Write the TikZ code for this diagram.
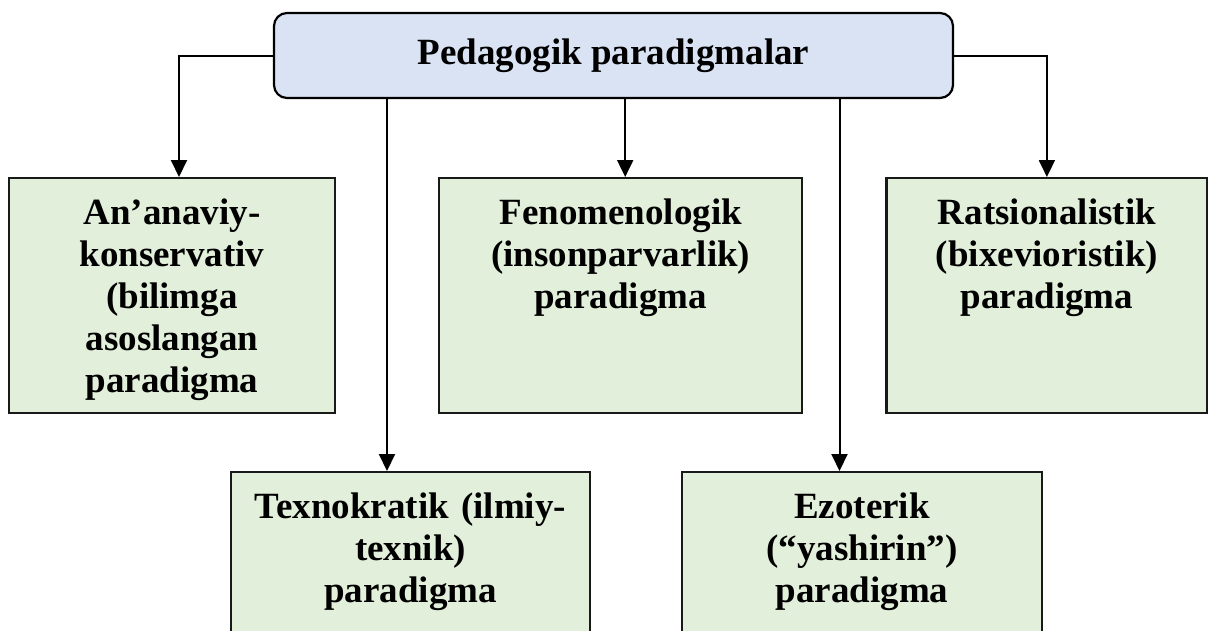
\documentclass[tikz,border=0pt]{standalone}
\usepackage{fontspec}
\setmainfont{Liberation Serif}
\usetikzlibrary{positioning, arrows.meta}

\definecolor{headblue}{HTML}{DAE3F3}
\definecolor{paragreen}{HTML}{E2EFDA}

\begin{document}
\begin{tikzpicture}[x=1pt, y=-1pt, font=\bfseries\fontsize{37}{42}\selectfont]
\tikzstyle{head}=[%
draw, line width=2.2pt, rounded corners=13pt,
fill=headblue, minimum width=679pt, minimum height=85pt, inner sep=0pt
]
\tikzstyle{para}=[%
draw=black!90, line width=2.2pt, fill=paragreen, anchor=north, align=center,
inner xsep=0pt, inner ysep=0pt, text height=46pt
]
\tikzstyle{link}=[line width=2pt, -{Triangle[length=17pt,width=16pt]}]
   \useasboundingbox (0,0) rectangle (1208,630);
   \clip (0,0) rectangle (1208,630);
   \node[head] (top) at (613.5,55.5) {Pedagogik paradigmalar};
   \node[para, text width=326pt, text depth=189pt] (anan) at (172,177) {An’anaviy-\\konservativ\\(bilimga\\asoslangan\\paradigma};
   \node[para, text width=363pt, text depth=189pt, right=102pt of anan.north east, anchor=north west] (feno) {Fenomenologik\\(insonparvarlik)\\paradigma};
   \node[para, text width=321pt, text depth=189pt, right=82pt of feno.north east, anchor=north west] (rats) {Ratsionalistik\\(bixevioristik)\\paradigma};
   \node[para, text width=359pt, text depth=200pt] (texn) at (410.5,471) {Texnokratik (ilmiy-\\texnik)\\paradigma};
   \node[para, text width=360pt, text depth=200pt] (ezot) at (862,471) {Ezoterik\\(“yashirin”)\\paradigma};
   \draw[link] (top.west) -| ([xshift=7pt]anan.north);
   \draw[link] (top.east) -| (rats.north);
   \draw[link] ([xshift=4.5pt]feno.north |- top.south) -- ([xshift=4.5pt]feno.north);
   \draw[link] ([xshift=-23.5pt]texn.north |- top.south) -- ([xshift=-23.5pt]texn.north);
   \draw[link] ([xshift=-22.5pt]ezot.north |- top.south) -- ([xshift=-22.5pt]ezot.north);
\end{tikzpicture}
\end{document}
